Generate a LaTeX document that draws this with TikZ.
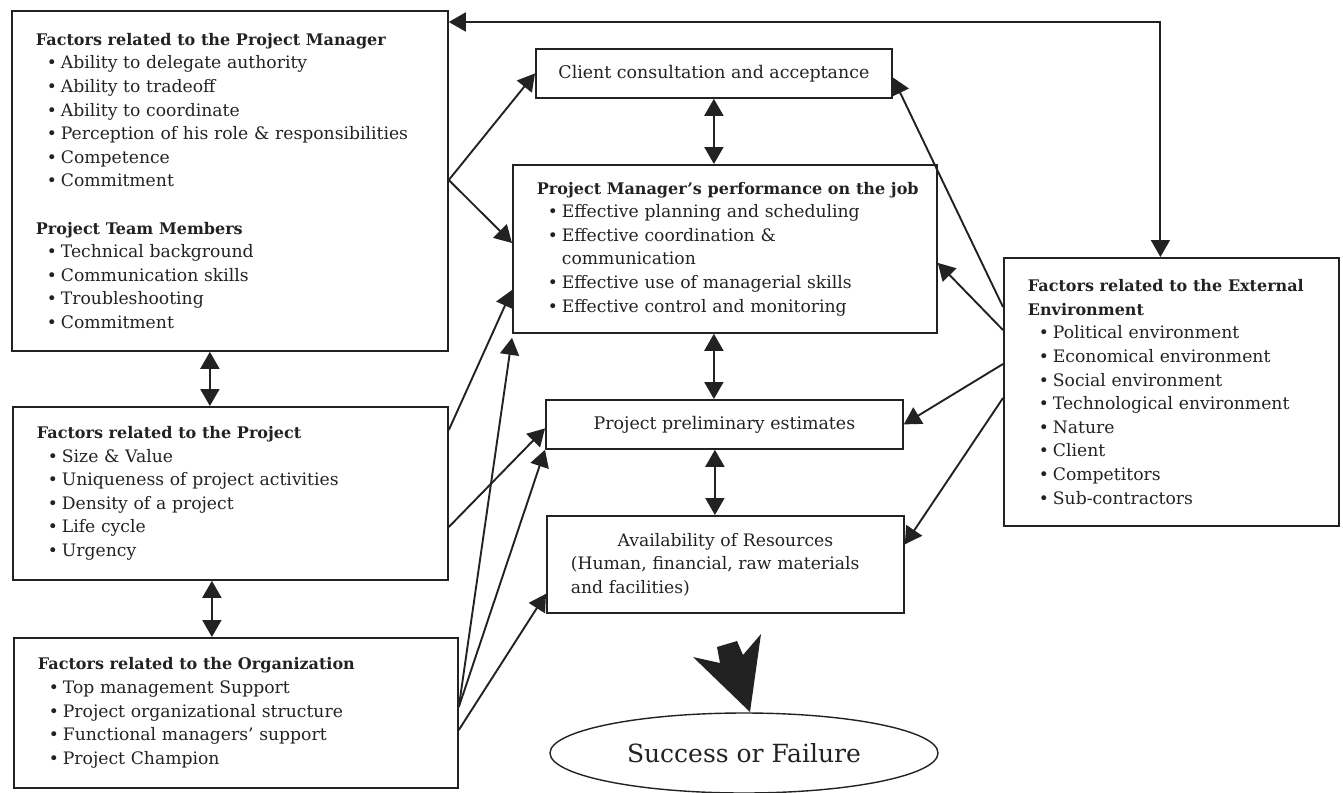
\documentclass[tikz,border=0pt]{standalone}
\usepackage{fontspec}
\setmainfont{DejaVu Serif}
\usetikzlibrary{arrows.meta,shapes.geometric}
\definecolor{ink}{HTML}{222222}
\newcommand{\bul}{\hspace*{11pt}\makebox[14pt][l]{\fontsize{17}{17}\selectfont\textbullet}}
\newcommand{\hd}[1]{\mbox{\fontsize{16}{23.6}\selectfont\bfseries #1}}

\begin{document}
\begin{tikzpicture}[x=1pt,y=-1pt,
  >={Triangle[length=17pt,width=19pt]},
  box/.style={draw=ink,line width=1.8pt,anchor=north west,inner xsep=24pt,inner ysep=0pt,
    align=left,text=ink,font=\fontsize{17.2}{23.6}\selectfont},
  lbox/.style={draw=ink,line width=1.8pt,anchor=north west,inner sep=0pt,
    align=center,text=ink,font=\fontsize{17.4}{23.6}\selectfont},
  flow/.style={->,draw=ink,line width=1.9pt},
  both/.style={<->,draw=ink,line width=1.9pt}]
  \path[use as bounding box] (0,0) rectangle (1343,792);

  \node[box,text width=388pt,minimum width=436pt,minimum height=340pt] (pm) at (11,10) {%
    \hd{Factors related to the Project Manager}\\
    \bul Ability to delegate authority\\
    \bul Ability to tradeoff\\
    \bul Ability to coordinate\\
    \bul \mbox{Perception of his role \& responsibilities}\\
    \bul Competence\\
    \bul Commitment\\[23.6pt]
    \hd{Project Team Members}\\
    \bul Technical background\\
    \bul Communication skills\\
    \bul Troubleshooting\\
    \bul Commitment};
  \node[box,text width=387pt,minimum width=435pt,minimum height=173pt] (proj) at (12,406) {%
    \hd{Factors related to the Project}\\
    \bul Size \& Value\\
    \bul Uniqueness of project activities\\
    \bul Density of a project\\
    \bul Life cycle\\
    \bul Urgency};
  \node[box,text width=396pt,minimum width=444pt,minimum height=150pt] (org) at (13,637) {%
    \hd{Factors related to the Organization}\\
    \bul Top management Support\\
    \bul Project organizational structure\\
    \bul Functional managers’ support\\
    \bul Project Champion};

  \node[lbox,minimum width=356pt,minimum height=49pt] (client) at (535,48) {Client consultation and acceptance};
  \node[box,text width=376pt,minimum width=424pt,minimum height=168pt] (perf) at (512,164) {%
    \hd{Project Manager’s performance on the job}\\
    \bul Effective planning and scheduling\\
    \bul Effective coordination \&\\
    \hspace*{25pt}communication\\
    \bul Effective use of managerial skills\\
    \bul Effective control and monitoring};
  \node[lbox,minimum width=357pt,minimum height=49pt] (est) at (545,399) {Project preliminary estimates};
  \node[box,text width=309pt,minimum width=357pt,minimum height=97pt] (res) at (546,515) {%
    \makebox[309pt][c]{Availability of Resources}\\
    \mbox{(Human, financial, raw materials}\\
    and facilities)};

  \node[box,text width=287pt,minimum width=335pt,minimum height=268pt] (ext) at (1003,257) {%
    \hd{Factors related to the External}\\
    \hd{Environment}\\
    \bul Political environment\\
    \bul Economical environment\\
    \bul Social environment\\
    \bul \mbox{Technological environment}\\
    \bul Nature\\
    \bul Client\\
    \bul Competitors\\
    \bul Sub-contractors};

  \node[ellipse,draw=ink,line width=1.4pt,text=ink,minimum width=388pt,minimum height=80pt,
    font=\fontsize{25}{28}\selectfont] (sof) at (744,753) {Success or Failure};
  \fill[ink] (750,712) -- (693,657) -- (720,663) -- (717,647) -- (737,641) -- (743,655) -- (761,634) -- cycle;

  \draw[both] ([yshift=-12pt]pm.north east) -| ([xshift=-11pt]ext.north);
  \draw[both] ([xshift=-20pt]pm.south) -- ([xshift=-20pt]pm.south |- proj.north);
  \draw[both] ([xshift=-18.5pt]proj.south) -- ([xshift=-18.5pt]proj.south |- org.north);
  \draw[both] (client.south) -- (client.south |- perf.north);
  \draw[both] ([xshift=-11pt]perf.south) -- ([xshift=-11pt]perf.south |- est.north);
  \draw[both] ([xshift=-9.5pt]est.south) -- ([xshift=-9.5pt]est.south |- res.north);

  \draw[flow] ([yshift=-170pt]pm.north east) -- (client.west);
  \draw[flow] ([yshift=-170pt]pm.north east) -- ([yshift=-79pt]perf.north west);
  \draw[flow] ([yshift=-24pt]proj.north east) -- ([yshift=-126pt]perf.north west);
  \draw[flow] ([yshift=-121pt]proj.north east) -- ([yshift=-4pt]est.west);
  \draw[flow] ([yshift=-70pt]org.north east) -- ([yshift=-4pt]perf.south west);
  \draw[flow] ([yshift=-70pt]org.north east) -- (est.south west);
  \draw[flow] ([yshift=-93pt]org.north east) -- ([yshift=20pt]res.south west);

  \draw[flow] ([yshift=-50pt]ext.north west) -- ([yshift=-4pt]client.east);
  \draw[flow] ([yshift=-73pt]ext.north west) -- ([yshift=-14pt]perf.east);
  \draw[flow] ([yshift=-107pt]ext.north west) -- (est.east);
  \draw[flow] ([yshift=-141pt]ext.north west) -- ([yshift=20pt]res.east);
\end{tikzpicture}
\end{document}
